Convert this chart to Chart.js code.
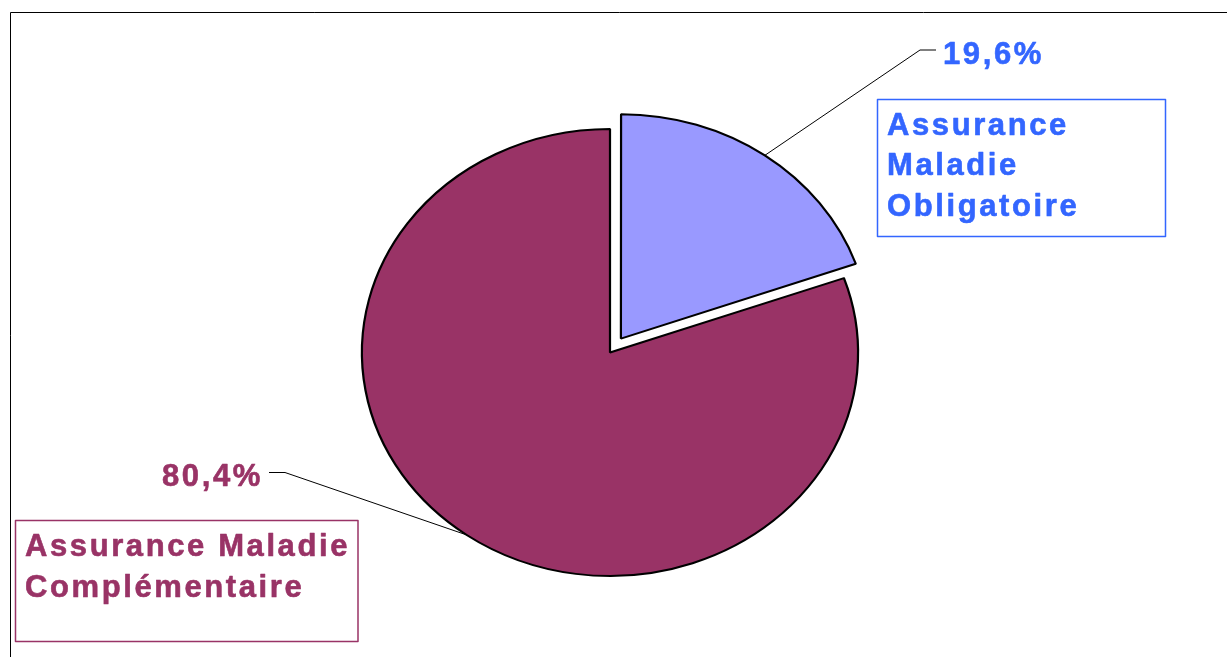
<!DOCTYPE html>
<html>
<head>
<meta charset="utf-8">
<script src="https://cdn.jsdelivr.net/npm/chart.js@4"></script>
<style>
  html, body { margin: 0; padding: 0; background: #fff; }
  #wrap { width: 1227px; height: 657px; position: relative; }
</style>
</head>
<body>
<div id="wrap"><canvas id="pie" width="1227" height="657"></canvas></div>
<script>
// ----------------------------
// data
// ----------------------------
const categories = ['Assurance Maladie Obligatoire', 'Assurance Maladie Complémentaire'];
const shares = [19.6, 80.4];
const sliceColors = ['#9999FF', '#993366'];
const labelColors = ['#3366FF', '#993366'];
// label lines as they are wrapped in the boxes
const boxLines = [
  ['Assurance', 'Maladie', 'Obligatoire'],
  ['Assurance Maladie', 'Complémentaire']
];

// ----------------------------
// layout
// ----------------------------
const W = 1227, H = 657;
const CX = 610, CY = 352.5;
const STRETCH = 1.11;      // pie is drawn a bit wider than tall
const RADIUS = 223.5;
const FONT = 'bold 31px "Liberation Sans", Arial, sans-serif';

const pct = v => v.toFixed(1).replace('.', ',') + '%';

// point on the outer edge of an arc, at its mid angle, after the stretch
function edgePoint(arc) {
  const mid = (arc.startAngle + arc.endAngle) / 2;
  const off = (arc.options.offset || 0) / 4;
  const circ = arc.endAngle - arc.startAngle;
  const fix = 1 - Math.sin(Math.min(Math.PI, circ));
  const d = off * (1 + fix);
  const x = arc.x + Math.cos(mid) * (d + arc.outerRadius);
  const y = arc.y + Math.sin(mid) * (d + arc.outerRadius);
  return { x: CX + (x - CX) * STRETCH, y };
}

const stretchPlugin = {
  id: 'stretch',
  beforeDatasetsDraw(chart) {
    const ctx = chart.ctx;
    ctx.save();
    ctx.translate(CX, 0);
    ctx.scale(STRETCH, 1);
    ctx.translate(-CX, 0);
  },
  afterDatasetsDraw(chart) {
    chart.ctx.restore();
  }
};

function boldText(ctx, t, x, y) {
  ctx.fillText(t, x, y);
  ctx.strokeText(t, x, y);
}

const labelPlugin = {
  id: 'calloutLabels',
  afterDraw(chart) {
    const ctx = chart.ctx;
    const arcs = chart.getDatasetMeta(0).data;
    ctx.save();

    // outer frame
    ctx.strokeStyle = '#000';
    ctx.lineWidth = 1;
    ctx.beginPath();
    ctx.moveTo(10.5, H + 5);
    ctx.lineTo(10.5, 12.5);
    ctx.lineTo(W + 5, 12.5);
    ctx.stroke();

    // leader lines
    const leaders = [
      { knee: [920, 50], end: [936, 50] },
      { knee: [285, 472.5], end: [269, 472.5] }
    ];
    arcs.forEach((arc, i) => {
      const p = edgePoint(arc);
      ctx.beginPath();
      ctx.moveTo(p.x, p.y);
      ctx.lineTo(leaders[i].knee[0], leaders[i].knee[1]);
      ctx.lineTo(leaders[i].end[0], leaders[i].end[1]);
      ctx.stroke();
    });

    // percentages
    ctx.font = FONT;
    ctx.letterSpacing = '2.6px';
    ctx.textBaseline = 'alphabetic';
    ctx.textAlign = 'left';
    ctx.lineWidth = 0.6;
    ctx.lineJoin = 'round';
    const pctPos = [[943, 63.5], [162, 485.5]];
    shares.forEach((v, i) => {
      ctx.fillStyle = labelColors[i];
      ctx.strokeStyle = labelColors[i];
      boldText(ctx, pct(v), pctPos[i][0], pctPos[i][1]);
    });

    // category boxes
    const boxes = [
      { x: 877.5, y: 99.5, w: 288, h: 137, tx: 887, ty: 134.5, lh: 40.8 },
      { x: 15.5, y: 520.5, w: 342.5, h: 121, tx: 25, ty: 555.5, lh: 41 }
    ];
    boxes.forEach((b, i) => {
      ctx.strokeStyle = labelColors[i];
      ctx.lineWidth = 1.5;
      ctx.strokeRect(b.x, b.y, b.w, b.h);
      ctx.fillStyle = labelColors[i];
      ctx.lineWidth = 0.6;
      boxLines[i].forEach((t, j) => boldText(ctx, t, b.tx, b.ty + j * b.lh));
    });
    ctx.restore();
  }
};

new Chart(document.getElementById('pie'), {
  type: 'pie',
  data: {
    labels: categories,
    datasets: [{
      data: shares,
      backgroundColor: sliceColors,
      hoverBackgroundColor: sliceColors,
      borderColor: '#000',
      borderWidth: 2,
      hoverBorderWidth: 2,
      offset: [68, 0],
      hoverOffset: 0,
      radius: RADIUS,
      clip: false
    }]
  },
  options: {
    responsive: false,
    animation: false,
    events: [],
    layout: {
      padding: { left: CX - 300, right: W - CX - 300, top: CY - 300, bottom: H - CY - 300 }
    },
    plugins: {
      legend: { display: false },
      tooltip: { enabled: false },
      title: { display: false }
    }
  },
  plugins: [stretchPlugin, labelPlugin]
});
</script>
</body>
</html>
